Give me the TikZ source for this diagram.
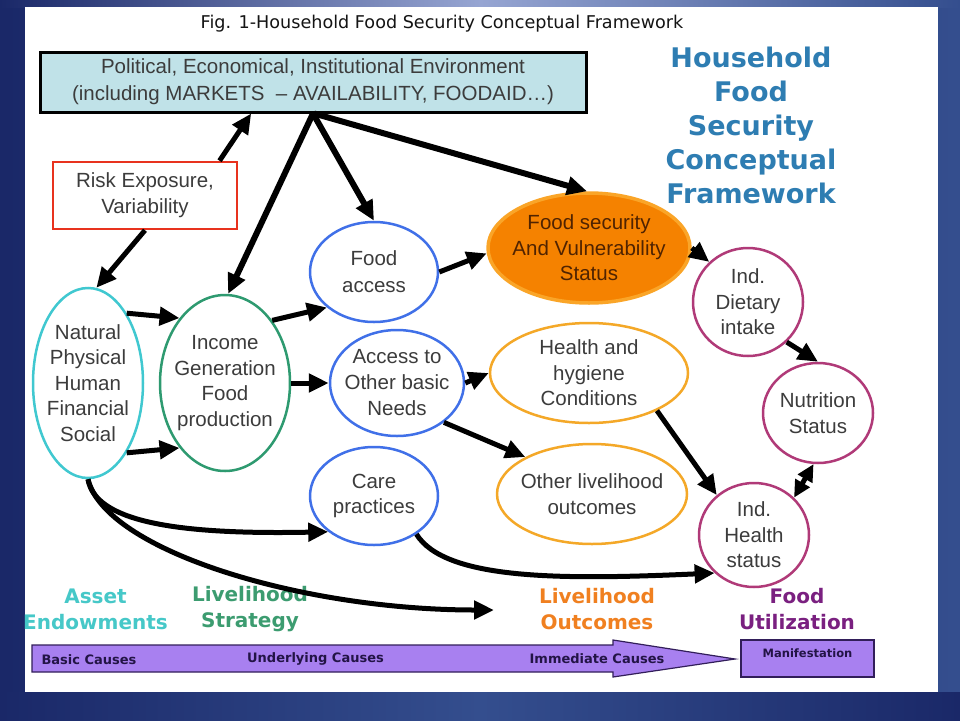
\documentclass[tikz,border=0pt]{standalone}
\usepackage{fontspec}
\setmainfont{Liberation Sans}
\newfontfamily\dvs{DejaVu Sans}
\usetikzlibrary{shapes.geometric,arrows.meta}
\definecolor{cyanE}{RGB}{64,200,208}
\definecolor{greenE}{RGB}{46,154,112}
\definecolor{blueE}{RGB}{64,112,232}
\definecolor{orangeE}{RGB}{244,168,40}
\definecolor{fsfill}{RGB}{245,130,0}
\definecolor{fsdraw}{RGB}{250,165,40}
\definecolor{magE}{RGB}{176,58,120}
\definecolor{textgray}{RGB}{60,60,60}
\definecolor{fstext}{RGB}{80,35,0}
\definecolor{envfill}{RGB}{192,226,232}
\definecolor{riskred}{RGB}{232,50,30}
\definecolor{titleblue}{RGB}{46,125,178}
\definecolor{assetC}{RGB}{70,200,200}
\definecolor{stratC}{RGB}{60,156,112}
\definecolor{outC}{RGB}{240,128,32}
\definecolor{utilC}{RGB}{122,32,128}
\definecolor{purpfill}{RGB}{168,128,240}
\definecolor{purpdraw}{RGB}{50,30,90}
\definecolor{bartext}{RGB}{35,20,70}
\definecolor{bgA}{RGB}{26,40,104}
\definecolor{bgB}{RGB}{52,78,142}
\definecolor{bgC}{RGB}{150,165,210}
\definecolor{titlegray}{RGB}{20,20,20}
\begin{document}
\begin{tikzpicture}[x=1pt,y=-1pt,
  txt/.style={text=textgray,font=\fontsize{20.5}{25.5}\selectfont,align=center},
  ell/.style={ellipse,draw=#1,line width=2.5pt,inner sep=0pt,fill=white},
  lab/.style={font=\dvs\bfseries\fontsize{20}{26}\selectfont,align=center},
  bar/.style={font=\dvs\bfseries\fontsize{13}{15}\selectfont,text=bartext},
  arr/.style={line width=5pt,-{Triangle[length=20pt,width=18pt]}},
  darr/.style={line width=5pt,{Triangle[length=17pt,width=16pt]}-{Triangle[length=17pt,width=16pt]}},
  thick arr/.style={arr,line width=6pt}
]
\useasboundingbox (0,0) rectangle (960,720);
% background
\shade[left color=bgA,right color=bgB] (0,0) rectangle (960,720);
\shade[left color=bgA,right color=bgB,middle color=bgC] (0,0) rectangle (960,7);
\shade[left color=bgA,right color=bgA,middle color=bgB] (0,692) rectangle (960,720);
\fill[white] (25,7) rectangle (938,692);

% titles
\node[font=\dvs\fontsize{17.6}{20}\selectfont,text=titlegray] (title) at (442,24) {Fig. 1-Household Food Security Conceptual Framework};
\node[font=\dvs\bfseries\fontsize{27}{34}\selectfont,text=titleblue,align=center] (htitle) at (751,125.5) {Household\\Food\\Security\\Conceptual\\Framework};

% boxes
\node[draw,line width=3pt,fill=envfill,minimum width=546pt,minimum height=60pt,inner sep=0pt,txt,font=\fontsize{20.5}{27}\selectfont] (env) at (313,82) {Political, Economical, Institutional Environment\\(including MARKETS\ \ – AVAILABILITY, FOODAID…)};
\node[draw=riskred,line width=2.5pt,fill=white,minimum width=184pt,minimum height=67pt,inner sep=0pt,txt,font=\fontsize{20.5}{26}\selectfont] (risk) at (145,195.5) {Risk Exposure,\\Variability};

% ellipses
\node[ell=cyanE,minimum width=110pt,minimum height=190pt,label={[txt]center:Natural\\Physical\\Human\\Financial\\Social}] (nat) at (88,383) {};
\node[ell=greenE,minimum width=130pt,minimum height=176pt,label={[txt]center:Income\\Generation\\Food\\production}] (inc) at (225,383) {};
\node[ell=blueE,minimum width=128pt,minimum height=100pt,label={[txt,font=\fontsize{20.5}{27}\selectfont]center:Food\\access}] (fa) at (374,272) {};
\node[ell=blueE,minimum width=134pt,minimum height=106pt,label={[txt,font=\fontsize{20.5}{26}\selectfont]center:Access to\\Other basic\\Needs}] (ao) at (397,383) {};
\node[ell=blueE,minimum width=128pt,minimum height=98pt,label={[txt]center:Care\\practices}] (care) at (374,496) {};
\node[ellipse,draw=fsdraw,fill=fsfill,line width=3.5pt,inner sep=0pt,minimum width=202pt,minimum height=110pt,label={[txt,text=fstext]center:Food security\\And Vulnerability\\Status}] (fs) at (589,248) {};
\node[ell=orangeE,minimum width=198pt,minimum height=100pt,label={[txt]center:Health and\\hygiene\\Conditions}] (hh) at (589,373) {};
\node[ell=orangeE,minimum width=190pt,minimum height=100pt,label={[txt,font=\fontsize{20.5}{26}\selectfont]center:Other livelihood\\outcomes}] (ol) at (592,494) {};
\node[ell=magE,minimum width=110pt,minimum height=108pt,label={[txt]center:Ind.\\Dietary\\intake}] (di) at (748,302) {};
\node[ell=magE,minimum width=110pt,minimum height=100pt,label={[txt,font=\fontsize{20.5}{26}\selectfont]center:Nutrition\\Status}] (nut) at (818,413) {};
\node[ell=magE,minimum width=110pt,minimum height=104pt,label={[txt]center:Ind.\\Health\\status}] (ih) at (754,535) {};

% bottom category labels
\node[lab,text=assetC] (asset) at (95.5,609) {Asset\\Endowments};
\node[lab,text=stratC] (strat) at (250,609) {Livelihood\\Strategy};
\node[lab,text=outC] (outc) at (597,609) {Livelihood\\Outcomes};
\node[lab,text=utilC] (util) at (797,609) {Food\\Utilization};

% causes bar
\draw[fill=purpfill,draw=purpdraw,line width=1.2pt] (32,645) -- (613,645) -- (613,640) -- (735,659) -- (613,677) -- (613,672) -- (32,672) -- cycle;
\node[bar] (basic) at (89,660) {Basic Causes};
\node[bar] (under) at (315.5,659) {Underlying Causes};
\node[bar] (immed) at (597,659) {Immediate Causes};
\node[draw=purpdraw,fill=purpfill,line width=1.2pt,minimum width=133pt,minimum height=37pt,inner sep=0pt,label={[bar,font=\dvs\bfseries\fontsize{11.5}{13}\selectfont,yshift=5.5pt]center:Manifestation}] (manif) at (807.5,658.5) {};

% connectors
\coordinate (lowend) at (494,610);
\draw[arr] (risk.25) -- (env.207);
\draw[arr] (risk.south) -- (nat.85);
\draw[thick arr] (env.south) -- (inc.88);
\draw[thick arr] (env.south) -- (fa.north);
\draw[thick arr] (env.-88) -- (fs.92);
\draw[arr] (nat.61) -- (inc.125);
\draw[arr] (nat.-61) -- (inc.-125);
\draw[arr] (inc.53) -- (fa.217);
\draw[arr] (inc.east) -- (ao.west);
\draw[arr] (fa.east) -- (fs.183);
\draw[arr] (ao.east) -- (hh.west);
\draw[arr] (ao.-40) -- (ol.151);
\draw[arr] (fs.east) -- (di.134);
\draw[arr] (di.-46) -- (nut.north);
\draw[darr] (nut.-95) -- (ih.43);
\draw[arr] (hh.-29) -- (ih.133);
\draw[arr] (care.-42) .. controls (445,580) and (560,580) .. (ih.224);
\draw[arr] (nat.south) .. controls (95,520) and (170,535) .. (care.218);
\draw[arr] (nat.south) .. controls (105,550) and (300,610) .. (lowend);
\end{tikzpicture}
\end{document}
